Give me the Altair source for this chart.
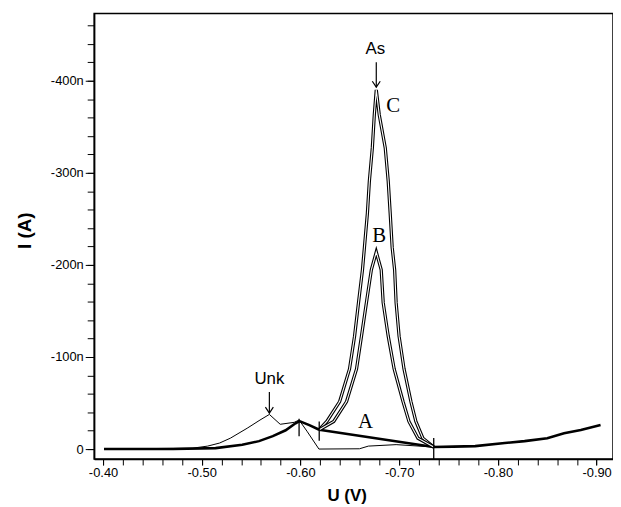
import altair as alt
import pandas as pd

# ---- data (potential in V, current magnitude in nA) ----
bg_V = [-0.401, -0.471, -0.514, -0.541, -0.558, -0.572, -0.585, -0.595, -0.599, -0.609, -0.619]
bg_I = [0, 0, 1, 4.6, 8.6, 14, 20.4, 28, 30.4, 26, 21]

tail_V = [-0.735, -0.755, -0.777, -0.807, -0.827, -0.850, -0.867, -0.884, -0.904]
tail_I = [2.2, 2.6, 3.2, 6.5, 8.6, 11.8, 17.2, 20.8, 26.2]

A_V = [-0.619, -0.735]
A_I = [21, 2.2]

C_V = [-0.619, -0.6267, -0.6397, -0.6497, -0.6548, -0.6588, -0.6628, -0.6648, -0.6678,
       -0.6698, -0.6728, -0.6748, -0.6768, -0.6798, -0.6859, -0.6889, -0.6909, -0.6929,
       -0.6954, -0.6969, -0.6999, -0.7049, -0.7119, -0.7169, -0.7240, -0.735]
C_I = [21, 30, 51.6, 87, 122.6, 159, 194.6, 219, 256, 291, 327, 363, 390, 363, 327, 291,
       256, 219, 194.6, 159, 122.6, 87, 51.6, 30, 11.8, 2.2]

B_V = [-0.619, -0.6337, -0.6467, -0.6568, -0.6618, -0.6668, -0.6718, -0.6768, -0.6818,
       -0.6838, -0.6889, -0.6949, -0.7039, -0.7099, -0.7190, -0.735]
B_I = [21, 30, 51.6, 87, 122.6, 159, 194.6, 214, 194.6, 159, 122.6, 87, 51.6, 30, 11.8, 2.2]

Unk_V = [-0.401, -0.491, -0.506, -0.518, -0.529, -0.546, -0.559, -0.5685, -0.5795, -0.5936,
         -0.5986, -0.6066, -0.6187, -0.6598, -0.6688, -0.6969, -0.735]
Unk_I = [0, 1, 3.2, 6.5, 11.8, 22.6, 31.5, 37.6, 26.9, 29, 31.5, 19.4, 0, 0.3, 3.2, 4.8, 2.2]

# peak boundary markers
mark_V = [-0.5986, -0.619, -0.735]
mark_I0 = [14, 9, -10.8]
mark_I1 = [33, 30, 12]

# annotations
lab_text = ["As", "Unk"]
lab_V = [-0.6758, -0.5685]
lab_I = [434, 76]
letter_text = ["C", "B", "A"]
letter_V = [-0.6939, -0.6798, -0.6658]
letter_I = [373, 231, 29]
arrow_V = [-0.6768, -0.5685]
arrow_I0 = [420, 62]
arrow_I1 = [393, 39]

y_major = [0, 100, 200, 300, 400]
y_minor = list(range(0, 461, 20))
x_major = [-0.40, -0.50, -0.60, -0.70, -0.80, -0.90]
x_minor = [round(-0.40 - 0.02 * i, 2) for i in range(26)]

XDOM = [-0.9166, -0.3910]
YDOM = [-10.8, 473.1]


def seg(name, vs, is_):
    return pd.DataFrame({"series": name, "V": vs, "I": is_, "o": range(len(vs))})


thick_df = pd.concat([seg("bg", bg_V, bg_I), seg("tail", tail_V, tail_I), seg("A", A_V, A_I)])
C_df = seg("C", C_V, C_I)
B_df = seg("B", B_V, B_I)
unk_df = seg("Unk", Unk_V, Unk_I)
mark_df = pd.DataFrame({"V": mark_V, "I": mark_I0, "I2": mark_I1})
lab_df = pd.DataFrame({"t": lab_text, "V": lab_V, "I": lab_I})
let_df = pd.DataFrame({"t": letter_text, "V": letter_V, "I": letter_I})
arr_df = pd.DataFrame({"V": arrow_V, "I": arrow_I0, "I2": arrow_I1})

xscale = alt.Scale(domain=XDOM, reverse=True, nice=False, zero=False)
yscale = alt.Scale(domain=YDOM, nice=False, zero=False)

x_axis = alt.Axis(values=x_major,
                  labelExpr="replace(format(datum.value, '.2f'), '\u2212', '-')",
                  tickSize=6, labelPadding=2,
                  labelFontSize=13, labelFont="Liberation Sans", labelColor="black",
                  tickColor="black", domainColor="black", domainWidth=1.5, grid=False,
                  title="U (V)", titleFontSize=17, titleFontWeight="bold",
                  titleFont="Liberation Sans", titleColor="black",
                  titleX=255, titleY=37, titleBaseline="middle", orient="bottom")
y_axis = alt.Axis(values=y_major, labelExpr="datum.value == 0 ? '0' : '-' + datum.value + 'n'",
                  tickSize=9, labelPadding=2, labelFontSize=13, labelFont="Liberation Sans",
                  labelColor="black", tickColor="black", domainColor="black", domainWidth=1.5,
                  grid=False, title="I (A)", titleFontSize=19, titleFontWeight="bold",
                  titleFont="Liberation Sans", titleColor="black", titleAngle=-90,
                  titleX=-70, titleY=219, titleBaseline="middle", titleAlign="center",
                  orient="left")

X = alt.X("V:Q", scale=xscale, axis=x_axis)
Y = alt.Y("I:Q", scale=yscale, axis=y_axis)

thick = alt.Chart(thick_df).mark_line(color="black", strokeWidth=2.6).encode(
    x=X, y=Y, detail="series:N", order="o:Q")
unk = alt.Chart(unk_df).mark_line(color="black", strokeWidth=1).encode(x=X, y=Y, order="o:Q")
C_out = alt.Chart(C_df).mark_line(color="black", strokeWidth=3.3).encode(x=X, y=Y, order="o:Q")
C_in = alt.Chart(C_df).mark_line(color="white", strokeWidth=1.1).encode(x=X, y=Y, order="o:Q")
B_out = alt.Chart(B_df).mark_line(color="black", strokeWidth=3.3).encode(x=X, y=Y, order="o:Q")
B_in = alt.Chart(B_df).mark_line(color="white", strokeWidth=1.1).encode(x=X, y=Y, order="o:Q")
marks = alt.Chart(mark_df).mark_rule(color="black", strokeWidth=1.3).encode(x=X, y=Y, y2="I2:Q")
arrows = alt.Chart(arr_df).mark_rule(color="black", strokeWidth=1.2).encode(x=X, y=Y, y2="I2:Q")
heads = alt.Chart(arr_df).mark_point(shape="M-1,-1.5L0,0L1,-1.5", filled=False, color="black",
                                     strokeWidth=1.2, size=64, opacity=1).encode(
    x=X, y=alt.Y("I2:Q", scale=yscale, axis=y_axis))
labels = alt.Chart(lab_df).mark_text(font="Liberation Sans", fontSize=17, color="black",
                                     baseline="middle", align="center").encode(x=X, y=Y, text="t:N")
letters = alt.Chart(let_df).mark_text(font="Liberation Serif", fontSize=21, color="black",
                                      baseline="middle", align="center").encode(x=X, y=Y, text="t:N")

main = alt.layer(thick, unk, C_out, C_in, B_out, B_in, marks, arrows, heads, labels, letters)

minor = alt.Chart(thick_df).mark_point(opacity=0).encode(
    x=alt.X("V:Q", scale=xscale,
            axis=alt.Axis(values=x_minor, labels=False, tickSize=6, domain=False, grid=False,
                          tickColor="black", title="", orient="bottom")),
    y=alt.Y("I:Q", scale=yscale,
            axis=alt.Axis(values=y_minor, labels=False, tickSize=7, domain=False, grid=False,
                          tickColor="black", title="", orient="left")))

chart = alt.layer(minor, main).resolve_axis(x="independent", y="independent").properties(
    width=524, height=450,
    autosize=alt.AutoSizeParams(type="none"),
    padding={"left": 87, "top": 3, "right": 0, "bottom": 45},
    background="white",
).configure_view(stroke="black", strokeWidth=1.5)

chart.save("out.html", embed_options={"renderer": "svg", "actions": False})
